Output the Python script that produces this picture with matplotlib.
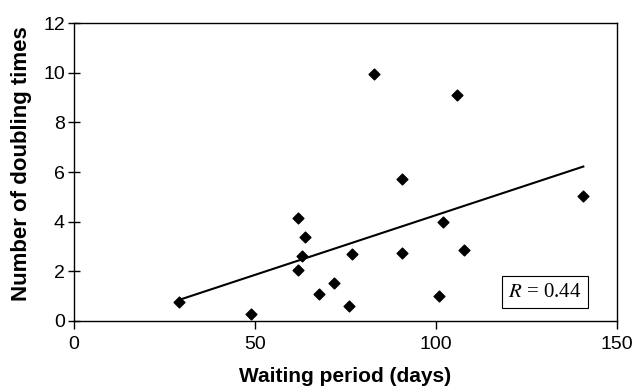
import numpy as np
import matplotlib
matplotlib.use("Agg")
import matplotlib.pyplot as plt

# waiting period (days) vs number of doubling times
waiting = [29, 48.9, 61.8, 63.9, 63.0, 61.8, 67.8, 71.8, 75.9, 76.8,
           82.8, 105.7, 90.7, 140.7, 101.8, 90.7, 107.7, 100.8]
doublings = [0.78, 0.27, 4.13, 3.39, 2.61, 2.05, 1.07, 1.53, 0.60, 2.70,
             9.96, 9.09, 5.71, 5.03, 3.99, 2.72, 2.86, 1.00]
r_text = "$R$ = 0.44"

plt.rcParams['font.family'] = ['Liberation Sans', 'DejaVu Sans']
plt.rcParams['mathtext.fontset'] = 'stix'

fig = plt.figure(figsize=(6.37, 3.88), dpi=100)
ax = fig.add_axes([0.1162, 0.1727, 0.8524, 0.768])

ax.scatter(waiting, doublings, marker='D', s=30, color='black', zorder=3)

# linear trend line
slope, icept = np.polyfit(waiting, doublings, 1)
xs = np.array([min(waiting), max(waiting)])
ax.plot(xs, slope * xs + icept, color='black', lw=1.5)

ax.set_xlim(0, 150)
ax.set_ylim(0, 12)
ax.set_xticks([0, 50, 100, 150])
ax.set_yticks([0, 2, 4, 6, 8, 10, 12])
ax.tick_params(axis='x', labelsize=14, direction='out', length=6, width=1, pad=5)
ax.tick_params(axis='y', labelsize=14, direction='inout', length=9, width=1, pad=2)
ax.set_xlabel("Waiting period (days)", fontsize=15, fontweight='bold', labelpad=10)
ax.set_ylabel("Number of doubling times", fontsize=16, fontweight='bold')
ax.yaxis.set_label_coords(-0.077, 0.528)
for s in ax.spines.values():
    s.set_linewidth(1)

ax.text(0.867, 0.097, r_text, transform=ax.transAxes, ha='center', va='center',
        fontsize=15, family='Liberation Serif',
        bbox=dict(boxstyle='square,pad=0.3', fc='white', ec='black', lw=0.8))

fig.savefig("out.png")
